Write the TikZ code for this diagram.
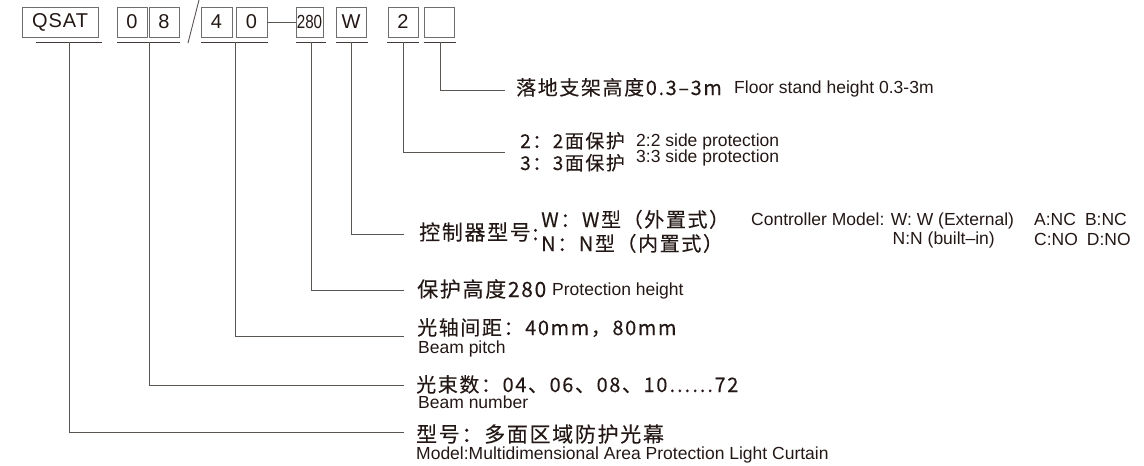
\documentclass[tikz,border=0pt]{standalone}
\usepackage{fontspec}
\setmainfont{Liberation Sans}
\newfontfamily\zhfont[LetterSpace=8,FakeBold=0.15]{Noto Sans CJK SC}
\newfontfamily\widefont[LetterSpace=5]{Liberation Sans}
\newfontfamily\narrowfont[FakeStretch=0.8]{Liberation Sans}
\definecolor{ink}{HTML}{231815}
\definecolor{leadgray}{HTML}{5B5552}
\definecolor{boxgray}{HTML}{6E6E6E}

\begin{document}
\begin{tikzpicture}[x=1pt,y=-1pt,
  box/.style={draw=boxgray,line width=0.9pt,minimum width=30pt,minimum height=30pt,inner sep=0pt,text=ink,font=\fontsize{20}{20}\selectfont},
  uline/.style={draw=ink!85,line width=0.9pt},
  lead/.style={draw=leadgray,line width=0.9pt},
  zh/.style={anchor=base west,inner sep=0pt,text=ink,font=\zhfont\fontsize{21}{24}\selectfont},
  zhm/.style={zh,font=\zhfont\fontsize{20}{22}\selectfont},
  zhs/.style={zh,font=\zhfont\fontsize{19}{20}\selectfont},
  en/.style={anchor=base west,inner sep=0pt,text=ink,font=\fontsize{17.5}{20}\selectfont}]
\useasboundingbox (0,0) rectangle (1144,466);

% order code boxes
\node[box,minimum width=76pt,font=\widefont\fontsize{20}{20}\selectfont] (qsat) at (60,22) {QSAT};
\node[box] (beam0) at (132,22) {0};
\node[box] (beam8) at (164,22) {8};
\node[box,minimum width=31pt] (pitch4) at (216.5,22) {4};
\node[box,minimum width=31pt] (pitch0) at (251.5,22) {0};
\node[box,minimum width=27pt,font=\narrowfont\fontsize{19}{19}\selectfont] (ht) at (309.5,22) {280};
\node[box] (ctl) at (351,22) {W};
\node[box] (side) at (403,22) {2};
\node[box] (stand) at (439,22) {};

\draw[lead] (199,0) -- (188,43);
\draw[lead] (pitch0.east) -- (ht.west);

% underlines
\draw[uline] (36,42) -- (102,42);
\draw[uline] (117,42) -- (180,42);
\draw[uline] (201,42) -- (268,42);
\draw[uline] (296,42) -- (326,42);
\draw[uline] (336,42) -- (368,42);
\draw[uline] (387,42) -- (419,42);
\draw[uline] (424,42) -- (456,42);

\coordinate (uqsat) at (69,42);
\coordinate (ubeam) at (149,42);
\coordinate (upitch) at (235,42);
\coordinate (uht) at (311,42);
\coordinate (uctl) at (351,42);
\coordinate (uside) at (403,42);
\coordinate (ustand) at (440,42);

% labels
\node[zhm] (stand-t) at (516,95) {落地支架高度0.3–3m};
\node[en] (stand-e) at (734,93) {Floor stand height 0.3-3m};

\node[zhs] (side2-t) at (520,148) {2：2面保护};
\node[zhs] (side3-t) at (520,170) {3：3面保护};
\node[en] (side2-e) at (636,146) {2:2 side protection};
\node[en] (side3-e) at (636,162) {3:3 side protection};

\node[zh] (ctl-t) at (419,240) {控制器型号:};
\node[zhm] (ctlw-t) at (541,227) {W：W型（外置式）};
\node[zhm] (ctln-t) at (541,251) {N：N型（内置式）};
\node[en] (ctlw-e) at (751,225) {Controller Model: W: W (External)};
\node[en,anchor=base east] (ctln-e) at (995,244) {N:N (built–in)};
\node[en] (nc-e) at (1034,225) {A:NC\hspace{9pt}B:NC};
\node[en] (no-e) at (1034,245) {C:NO\hspace{9pt}D:NO};

\node[zh] (ht-t) at (417,297) {保护高度280};
\node[en] (ht-e) at (552,295) {Protection height};

\node[zhm] (pitch-t) at (417,335) {光轴间距：40mm，80mm};
\node[en] (pitch-e) at (418,353) {Beam pitch};

\node[zhm] (beam-t) at (416,392) {光束数：04、06、08、10……72};
\node[en] (beam-e) at (418,408) {Beam number};

\node[zh] (model-t) at (416,442) {型号：多面区域防护光幕};
\node[en] (model-e) at (416,459) {Model:Multidimensional Area Protection Light Curtain};

\coordinate (estand) at (505,90);
\coordinate (eside) at (505,152);
\coordinate (ectl) at (404,234);
\coordinate (eht) at (404,290);
\coordinate (epitch) at (404,336);
\coordinate (ebeam) at (404,385);
\coordinate (eqsat) at (404,432);

\draw[lead] (ustand) |- (estand);
\draw[lead] (uside) |- (eside);
\draw[lead] (uctl) |- (ectl);
\draw[lead] (uht) |- (eht);
\draw[lead] (upitch) |- (epitch);
\draw[lead] (ubeam) |- (ebeam);
\draw[lead] (uqsat) |- (eqsat);
\end{tikzpicture}
\end{document}
